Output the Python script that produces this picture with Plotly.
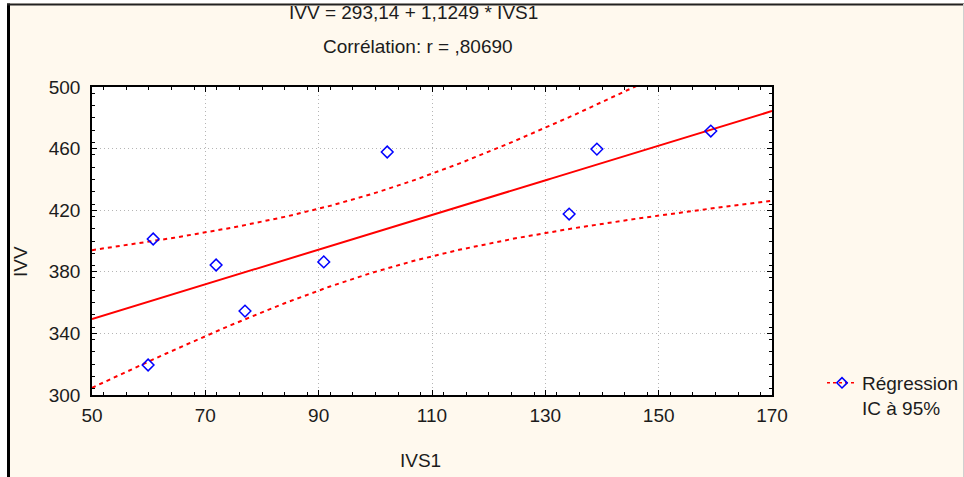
import numpy as np
import plotly.graph_objects as go

# Data
ivs1 = [60.8, 59.9, 71.9, 77.0, 90.9, 102.1, 134.2, 139.1, 159.2]
ivv = [401.3, 319.5, 384.4, 354.5, 386.4, 457.8, 417.5, 459.7, 471.4]

INTERCEPT = 293.14
SLOPE = 1.1249
T_975_DF7 = 2.3646  # Student t, 95%, df = n-2 = 7

x_ticks = [50, 70, 90, 110, 130, 150, 170]
y_ticks = [300, 340, 380, 420, 460, 500]

title1 = "IVV = 293,14 + 1,1249 * IVS1"
title2 = "Corrélation: r = ,80690"

# Regression line and 95% confidence band computed from the points
xa = np.array(ivs1)
ya = np.array(ivv)
n = len(xa)
resid = ya - (INTERCEPT + SLOPE * xa)
s = np.sqrt(np.sum(resid ** 2) / (n - 2))
sxx = np.sum((xa - xa.mean()) ** 2)
xg = np.linspace(x_ticks[0], x_ticks[-1], 241)
yfit = INTERCEPT + SLOPE * xg
half = T_975_DF7 * s * np.sqrt(1.0 / n + (xg - xa.mean()) ** 2 / sxx)
upper = yfit + half
lower = yfit - half

RED = "#FF0000"
BLUE = "#0000FF"
FONT = "Liberation Sans, Arial, sans-serif"
TXT = "#1c1c1c"

fig = go.Figure()
fig.add_trace(go.Scatter(x=xg, y=upper, mode="lines", showlegend=False,
                         line=dict(color=RED, width=2, dash="4px,4px")))
fig.add_trace(go.Scatter(x=xg, y=lower, mode="lines", showlegend=False,
                         line=dict(color=RED, width=2, dash="4px,4px")))
fig.add_trace(go.Scatter(x=xg, y=yfit, mode="lines", showlegend=False,
                         line=dict(color=RED, width=2)))
fig.add_trace(go.Scatter(x=ivs1, y=ivv, mode="markers", showlegend=False,
                         marker=dict(symbol="diamond-open", size=9, color=BLUE,
                                     line=dict(color=BLUE, width=1.5))))
fig.add_trace(go.Scatter(x=[None], y=[None], mode="lines+markers",
                         name="Régression<br>IC à 95%",
                         line=dict(color=RED, width=1.5, dash="3px,3px"),
                         marker=dict(symbol="diamond-open", size=8, color=BLUE,
                                     line=dict(color=BLUE, width=1.5))))

L, R, T, B = 92, 192, 87, 82
W, H = 964, 477
pw, ph = W - L - R, H - T - B


def px(xp):
    return (xp - L) / pw


def py(yp):
    return (H - B - yp) / ph


axis_common = dict(
    showline=True, linecolor="black", linewidth=1.5, mirror="ticks",
    ticks="inside", ticklen=5, tickcolor="black", tickwidth=1,
    showgrid=True, gridcolor="#b5b5b5", griddash="1px,3px", gridwidth=1.4,
    zeroline=False,
    tickfont=dict(family=FONT, size=19, color=TXT),
)

fig.update_xaxes(range=[x_ticks[0], x_ticks[-1]], tickvals=x_ticks, ticklabelstandoff=2,
                 minor=dict(dtick=4, ticks="inside", ticklen=3, tickcolor="black", showgrid=False),
                 **axis_common)
fig.update_yaxes(range=[y_ticks[0], y_ticks[-1]], tickvals=y_ticks, ticklabelstandoff=6,
                 minor=dict(dtick=8, ticks="inside", ticklen=3, tickcolor="black", showgrid=False),
                 **axis_common)

fig.update_layout(
    width=W, height=H,
    margin=dict(l=L, r=R, t=T, b=B, autoexpand=False),
    paper_bgcolor="#FFF9EE",
    plot_bgcolor="white",
    font=dict(family=FONT, size=19, color=TXT),
    legend=dict(x=px(822), y=py(364), xanchor="left", yanchor="top",
                bgcolor="rgba(0,0,0,0)", valign="top",
                font=dict(family=FONT, size=19, color=TXT),
                itemwidth=30, tracegroupgap=0),
    annotations=[
        dict(text=title1, x=px(413), y=py(12), xref="paper", yref="paper",
             showarrow=False, xanchor="center", yanchor="middle",
             font=dict(family=FONT, size=19, color=TXT)),
        dict(text=title2, x=px(418), y=py(47), xref="paper", yref="paper",
             showarrow=False, xanchor="center", yanchor="middle",
             font=dict(family=FONT, size=19, color=TXT)),
        dict(text="IVV", x=px(20), y=py(262), xref="paper", yref="paper",
             showarrow=False, xanchor="center", yanchor="middle", textangle=-90,
             font=dict(family=FONT, size=19, color=TXT)),
        dict(text="IVS1", x=px(420), y=py(460), xref="paper", yref="paper",
             showarrow=False, xanchor="center", yanchor="middle",
             font=dict(family=FONT, size=19, color=TXT)),
    ],
    shapes=[
        dict(type="rect", xref="paper", yref="paper", x0=px(0), x1=px(7), y0=py(H), y1=py(0),
             fillcolor="white", line=dict(width=0), layer="above"),
        dict(type="rect", xref="paper", yref="paper", x0=px(0), x1=px(W), y0=py(3), y1=py(0),
             fillcolor="white", line=dict(width=0), layer="above"),
        dict(type="line", xref="paper", yref="paper", x0=px(8.5), x1=px(8.5), y0=py(H), y1=py(3.5),
             line=dict(color="black", width=3), layer="above"),
        dict(type="line", xref="paper", yref="paper", x0=px(7), x1=px(W), y0=py(4.5), y1=py(4.5),
             line=dict(color="#222222", width=2), layer="above"),
        dict(type="line", xref="paper", yref="paper", x0=px(963.5), x1=px(963.5), y0=py(H), y1=py(4),
             line=dict(color="#d0d0d0", width=1), layer="above"),
    ],
)

fig.write_html("out.html", config={"displayModeBar": False},
               post_script="document.body.style.margin='0';document.body.style.overflow='hidden';")
